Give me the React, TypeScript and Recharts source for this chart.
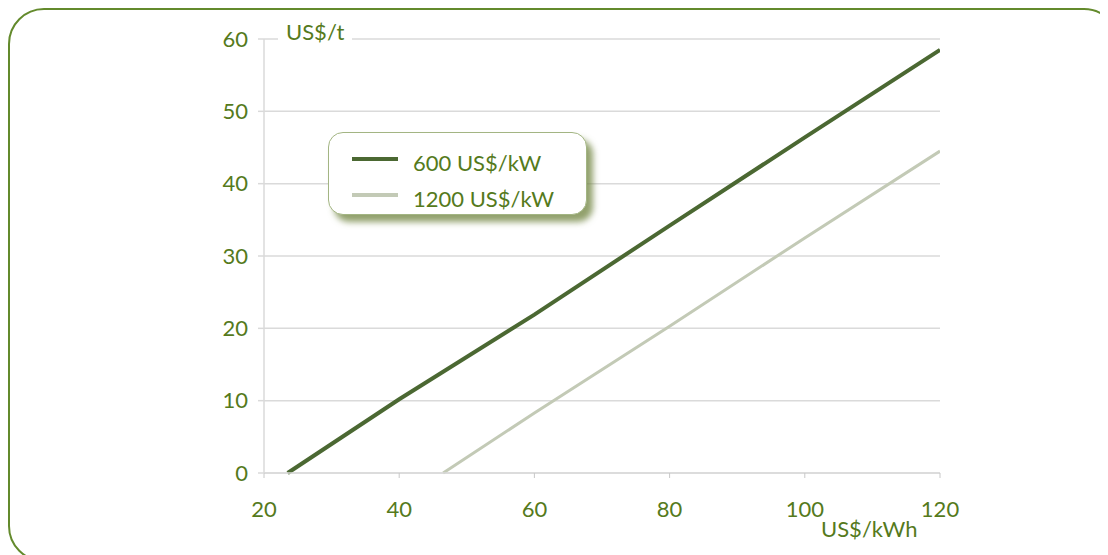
import { CartesianGrid, Line, LineChart, XAxis, YAxis } from 'recharts'

// electricity price (US$/kWh) vs cost (US$/t)
const xTicks = [20, 40, 60, 80, 100, 120]
const yTicks = [0, 10, 20, 30, 40, 50, 60]

const price600 = [23.5, 40, 60, 80, 100, 120]
const cost600 = [0, 10.2, 21.9, 34.2, 46.4, 58.5]

const price1200 = [46.5, 60, 80, 100, 120]
const cost1200 = [0, 8.3, 20.3, 32.5, 44.5]

const seriesNames = ['600 US$/kW', '1200 US$/kW']
const xLabel = 'US$/kWh'
const yLabel = 'US$/t'

const data600 = price600.map((x, i) => ({ x, y: cost600[i] }))
const data1200 = price1200.map((x, i) => ({ x, y: cost1200[i] }))

const FONT = 'Lato, "Open Sans", sans-serif'
const GREEN = '#557a1c'
const DARK = '#4b6832'
const LIGHT = '#c3cab6'
const GRID = '#dadada'
const FS = 22

const tickStyle = { fill: GREEN, fontSize: FS, fontFamily: FONT }

function LegendBox() {
  const items = [
    { name: seriesNames[0], color: DARK },
    { name: seriesNames[1], color: LIGHT },
  ]
  return (
    <div
      style={{
        position: 'absolute',
        left: 320,
        top: 124,
        width: 259,
        height: 83,
        boxSizing: 'border-box',
        border: '1.5px solid #a3b583',
        borderRadius: 15,
        background: '#fff',
        boxShadow: '6px 7px 6px rgba(110,130,60,0.75)',
        paddingTop: 11,
        fontFamily: FONT,
      }}
    >
      {items.map((it) => (
        <div key={it.name} style={{ display: 'flex', alignItems: 'center', height: 36 }}>
          <div
            style={{
              width: 46,
              height: 4,
              background: it.color,
              marginLeft: 23,
              marginRight: 15,
              marginTop: -6,
            }}
          />
          <span style={{ color: GREEN, fontSize: FS }}>{it.name}</span>
        </div>
      ))}
    </div>
  )
}

export default function App() {
  return (
    <div style={{ position: 'relative', width: 1100, height: 547, overflow: 'hidden' }}>
      <div
        style={{
          position: 'absolute',
          left: 0,
          top: 0,
          width: 1112,
          height: 554,
          boxSizing: 'border-box',
          border: '2px solid #638a2c',
          borderRadius: 36,
        }}
      />
      <LineChart
        width={1092}
        height={547}
        margin={{ top: 31, right: 160, bottom: 42, left: 196 }}
        style={{ position: 'absolute', left: 0, top: 0 }}
      >
        <CartesianGrid horizontal vertical={false} stroke={GRID} strokeWidth={1.5} />
        <XAxis
          type="number"
          dataKey="x"
          domain={[20, 120]}
          ticks={xTicks}
          allowDataOverflow
          height={40}
          tick={tickStyle}
          tickSize={5}
          tickMargin={23}
          axisLine={{ stroke: GRID, strokeWidth: 1.5 }}
          tickLine={{ stroke: '#c8c8c8' }}
        />
        <YAxis
          type="number"
          dataKey="y"
          domain={[0, 60]}
          ticks={yTicks}
          width={60}
          tick={tickStyle}
          tickSize={6}
          tickMargin={10}
          axisLine={{ stroke: GRID, strokeWidth: 1.5 }}
          tickLine={{ stroke: GRID, strokeWidth: 1.5 }}
        />
        <Line
          data={data600}
          dataKey="y"
          name={seriesNames[0]}
          type="linear"
          stroke={DARK}
          strokeWidth={4}
          dot={false}
          isAnimationActive={false}
        />
        <Line
          data={data1200}
          dataKey="y"
          name={seriesNames[1]}
          type="linear"
          stroke={LIGHT}
          strokeWidth={3}
          dot={false}
          isAnimationActive={false}
        />
      </LineChart>
      <LegendBox />
      <div
        style={{
          position: 'absolute',
          left: 270,
          top: 10,
          padding: '0 8px',
          background: '#fff',
          color: GREEN,
          fontFamily: FONT,
          fontSize: FS,
          lineHeight: '28px',
        }}
      >
        {yLabel}
      </div>
      <div
        style={{
          position: 'absolute',
          left: 813,
          top: 508,
          color: GREEN,
          fontFamily: FONT,
          fontSize: FS,
          lineHeight: '26px',
        }}
      >
        {xLabel}
      </div>
    </div>
  )
}
